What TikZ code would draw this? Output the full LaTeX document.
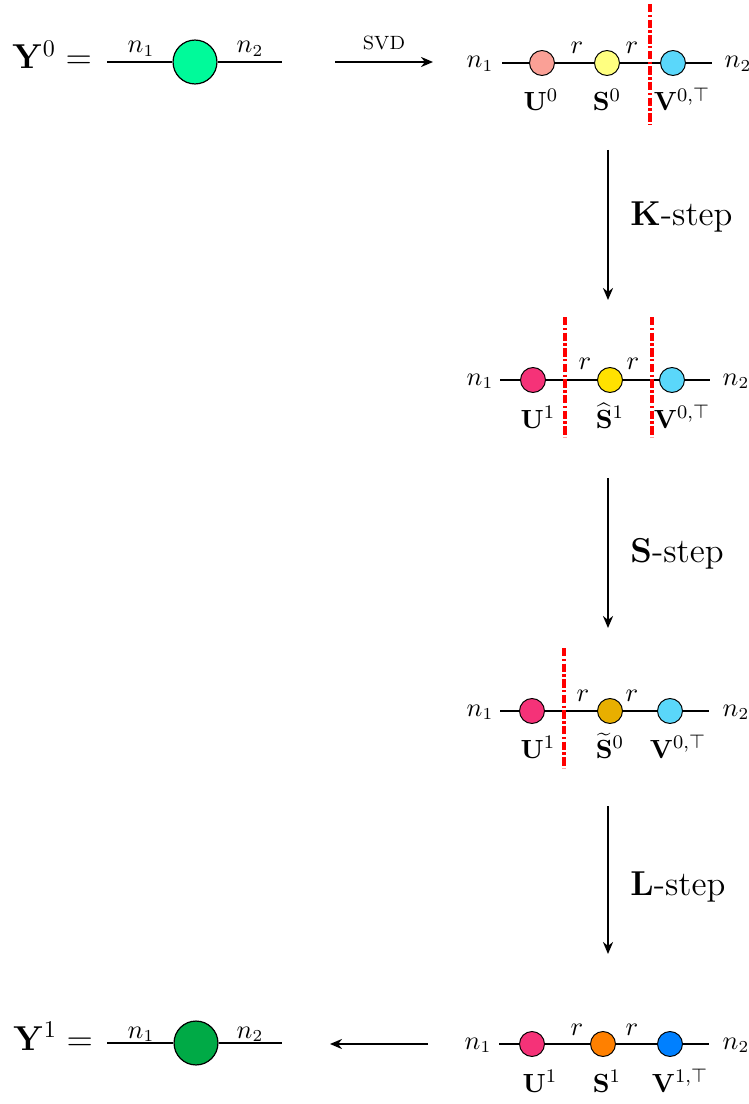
\documentclass[tikz,border=0pt]{standalone}
\usetikzlibrary{arrows.meta}
\definecolor{mintc}{RGB}{0,250,154}
\definecolor{salmonc}{RGB}{250,160,150}
\definecolor{yellowc}{RGB}{255,255,128}
\definecolor{skyc}{RGB}{90,215,250}
\definecolor{pinkc}{RGB}{245,50,120}
\definecolor{goldc}{RGB}{255,225,0}
\definecolor{darkgoldc}{RGB}{232,175,0}
\definecolor{orangec}{RGB}{255,128,0}
\definecolor{bluec}{RGB}{0,128,255}
\definecolor{greenc}{RGB}{0,170,70}
\begin{document}
\begin{tikzpicture}[x=0.4167pt,y=-0.4167pt,
  tn/.style={circle,draw=black,line width=0.4pt,minimum size=10.4pt,inner sep=0pt},
  bigtn/.style={circle,draw=black,line width=0.5pt,minimum size=18.3pt,inner sep=0pt},
  leg/.style={line width=0.6pt},
  flow/.style={line width=0.8pt,-{Stealth[length=5pt,width=4.2pt]}},
  cut/.style={red,line width=1.4pt,dash pattern=on 3.5pt off 1pt on 1pt off 1pt},
  idx/.style={font=\fontsize{10.5}{12.5}\selectfont,anchor=base,inner sep=0pt},
  nm/.style={font=\fontsize{11.2}{13.5}\selectfont,anchor=base,inner sep=0pt},
  steplbl/.style={font=\Large,anchor=base west,inner sep=0pt},
  eqlbl/.style={font=\Large,anchor=base west,inner sep=0pt},
]
\useasboundingbox (0,0) rectangle (749,1104);

% ---------- top left: Y^0 ----------
\node[eqlbl] (y0) at (12,69) {$\mathbf{Y}^0 =$};
\coordinate (y0a) at (107,62);
\node[bigtn,fill=mintc] (Y0) at (195,62) {};
\coordinate (y0b) at (282,62);
\draw[leg] (y0a) -- (Y0) -- (y0b);
\node[idx] (y0n1) at (141,53) {$n_1$};
\node[idx] (y0n2) at (250,53) {$n_2$};

% SVD arrow
\coordinate (svda) at (335,62);
\coordinate (svdb) at (433,62);
\draw[flow] (svda) -- (svdb);
\node[idx,font=\footnotesize] (svdl) at (384,50) {SVD};

% ---------- row 1 ----------
\node[idx] (r1n1) at (480,68) {$n_1$};
\coordinate (r1a) at (502,63);
\node[tn,fill=salmonc] (U0) at (542,63) {};
\node[tn,fill=yellowc] (S0) at (607,63) {};
\node[tn,fill=skyc] (V0) at (673,63) {};
\coordinate (r1b) at (712,63);
\node[idx] (r1n2) at (738,68) {$n_2$};
\draw[leg] (r1a) -- (U0) -- (S0) -- (V0) -- (r1b);
\node[idx] (r1r1) at (577,54) {$r$};
\node[idx] (r1r2) at (632,54) {$r$};
\coordinate (c1a) at (650,4);
\coordinate (c1b) at (650,125);
\draw[cut] (c1a) -- (c1b);
\node[nm] (lU0) at (541,111) {$\mathbf{U}^0$};
\node[nm] (lS0) at (607,111) {$\mathbf{S}^0$};
\node[nm] (lV0) at (682,111) {$\mathbf{V}^{0,\top}$};

% K-step
\coordinate (ka) at (608,150);
\coordinate (kb) at (608,300);
\draw[flow] (ka) -- (kb);
\node[steplbl] (kl) at (630,225) {$\mathbf{K}$-step};

% ---------- row 2 ----------
\node[idx] (r2n1) at (480,385) {$n_1$};
\coordinate (r2a) at (500,380);
\node[tn,fill=pinkc] (U1a) at (533,380) {};
\node[tn,fill=goldc] (S1h) at (610,380) {};
\node[tn,fill=skyc] (V0b) at (672,380) {};
\coordinate (r2b) at (710,380);
\node[idx] (r2n2) at (736,385) {$n_2$};
\draw[leg] (r2a) -- (U1a) -- (S1h) -- (V0b) -- (r2b);
\node[idx] (r2r1) at (585,369) {$r$};
\node[idx] (r2r2) at (633,369) {$r$};
\coordinate (c2a) at (565,317);
\coordinate (c2b) at (565,437);
\draw[cut] (c2a) -- (c2b);
\coordinate (c3a) at (652,317);
\coordinate (c3b) at (652,437);
\draw[cut] (c3a) -- (c3b);
\node[nm] (lU1a) at (538,428) {$\mathbf{U}^1$};
\node[nm] (lS1h) at (610,428) {$\widehat{\mathbf{S}}^1$};
\node[nm] (lV0b) at (682,428) {$\mathbf{V}^{0,\top}$};

% S-step
\coordinate (sa) at (608,478);
\coordinate (sb) at (608,628);
\draw[flow] (sa) -- (sb);
\node[steplbl] (sl) at (630,562) {$\mathbf{S}$-step};

% ---------- row 3 ----------
\node[idx] (r3n1) at (480,716) {$n_1$};
\coordinate (r3a) at (500,711);
\node[tn,fill=pinkc] (U1b) at (532,711) {};
\node[tn,fill=darkgoldc] (S0t) at (610,711) {};
\node[tn,fill=skyc] (V0c) at (670,711) {};
\coordinate (r3b) at (709,711);
\node[idx] (r3n2) at (736,716) {$n_2$};
\draw[leg] (r3a) -- (U1b) -- (S0t) -- (V0c) -- (r3b);
\node[idx] (r3r1) at (583,701) {$r$};
\node[idx] (r3r2) at (632,701) {$r$};
\coordinate (c4a) at (564,648);
\coordinate (c4b) at (564,768);
\draw[cut] (c4a) -- (c4b);
\node[nm] (lU1b) at (538,758) {$\mathbf{U}^1$};
\node[nm] (lS0t) at (610,758) {$\widetilde{\mathbf{S}}^0$};
\node[nm] (lV0c) at (678,758) {$\mathbf{V}^{0,\top}$};

% L-step
\coordinate (la) at (608,806);
\coordinate (lb) at (608,954);
\draw[flow] (la) -- (lb);
\node[steplbl] (ll) at (630,895) {$\mathbf{L}$-step};

% ---------- row 4 ----------
\node[idx] (r4n1) at (478,1049) {$n_1$};
\coordinate (r4a) at (499,1044);
\node[tn,fill=pinkc] (U1c) at (532,1044) {};
\node[tn,fill=orangec] (S1) at (603,1044) {};
\node[tn,fill=bluec] (V1) at (670,1044) {};
\coordinate (r4b) at (709,1044);
\node[idx] (r4n2) at (736,1049) {$n_2$};
\draw[leg] (r4a) -- (U1c) -- (S1) -- (V1) -- (r4b);
\node[idx] (r4r1) at (577,1035) {$r$};
\node[idx] (r4r2) at (632,1035) {$r$};
\node[nm] (lU1c) at (540,1092) {$\mathbf{U}^1$};
\node[nm] (lS1) at (607,1092) {$\mathbf{S}^1$};
\node[nm] (lV1) at (680,1092) {$\mathbf{V}^{1,\top}$};

% back arrow
\coordinate (ba) at (428,1044);
\coordinate (bb) at (330,1044);
\draw[flow] (ba) -- (bb);

% ---------- bottom left: Y^1 ----------
\node[eqlbl] (y1) at (13,1050) {$\mathbf{Y}^1 =$};
\coordinate (y1a) at (107,1043);
\node[bigtn,fill=greenc] (Y1) at (196,1043) {};
\coordinate (y1b) at (282,1043);
\draw[leg] (y1a) -- (Y1) -- (y1b);
\node[idx] (y1n1) at (141,1038) {$n_1$};
\node[idx] (y1n2) at (250,1038) {$n_2$};
\end{tikzpicture}
\end{document}
